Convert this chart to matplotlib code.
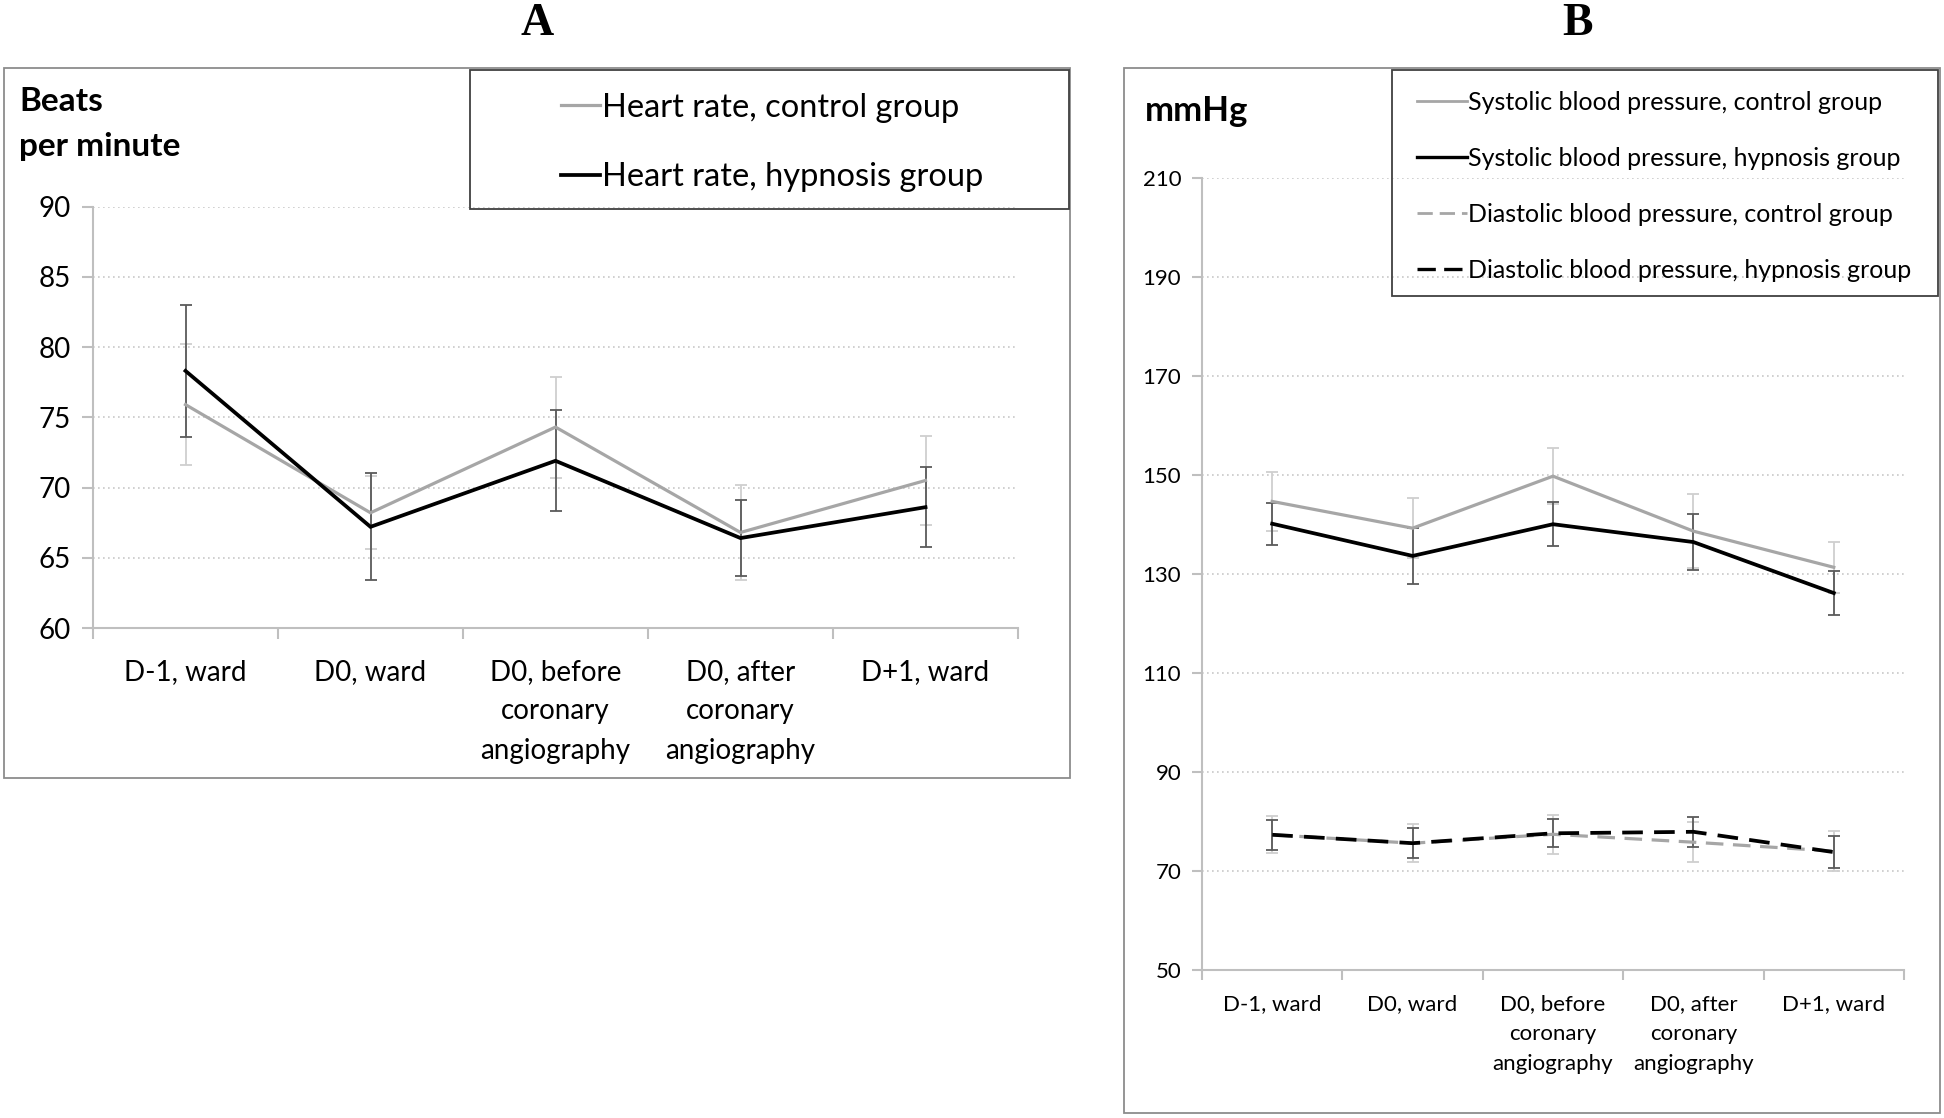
import matplotlib
matplotlib.use("Agg")
import matplotlib.pyplot as plt
from matplotlib.patches import Rectangle
from matplotlib.lines import Line2D
import numpy as np

plt.rcParams['font.family'] = ['Lato', 'DejaVu Sans']

categories = ["D-1, ward", "D0, ward", "D0, before\ncoronary\nangiography",
              "D0, after\ncoronary\nangiography", "D+1, ward"]

# Panel A: heart rate (beats per minute)
hr_control = [75.9, 68.2, 74.3, 66.8, 70.5]
hr_control_err = [4.3, 2.6, 3.6, 3.4, 3.2]
hr_hypnosis = [78.3, 67.2, 71.9, 66.4, 68.6]
hr_hypnosis_err = [4.7, 3.8, 3.6, 2.7, 2.85]
hr_ticks = [60, 65, 70, 75, 80, 85, 90]

# Panel B: blood pressure (mmHg)
sbp_control = [144.6, 139.2, 149.7, 138.6, 131.3]
sbp_control_err = [5.9, 6.1, 5.7, 7.5, 5.1]
sbp_hypnosis = [140.1, 133.6, 140.0, 136.4, 126.1]
sbp_hypnosis_err = [4.2, 5.7, 4.4, 5.7, 4.4]
dbp_control = [77.3, 75.6, 77.4, 75.8, 74.0]
dbp_control_err = [3.7, 3.8, 3.9, 4.0, 4.0]
dbp_hypnosis = [77.3, 75.6, 77.6, 77.9, 73.8]
dbp_hypnosis_err = [3.0, 3.0, 2.8, 3.0, 3.2]
bp_ticks = [50, 70, 90, 110, 130, 150, 170, 190, 210]

W, H = 1944, 1118
fig = plt.figure(figsize=(W / 100, H / 100), dpi=100)


def fx(px):
    return px / W


def fy(py):
    return 1 - py / H


GRAY = '#a6a6a6'
BLACK = '#000000'
GRAY_ERR = '#cfcfcf'
BLACK_ERR = '#5a5a5a'
SPINE = '#bfbfbf'


def style_axes(ax, ticks, tick_fs, xl_fs, xl_ls, xl_pad, tick_len):
    x = np.arange(len(categories))
    ax.set_xlim(-0.5, len(categories) - 0.5)
    ax.set_ylim(ticks[0], ticks[-1])
    ax.set_yticks(ticks)
    ax.set_yticklabels([str(t) for t in ticks], fontsize=tick_fs)
    ax.set_xticks(x)
    ax.set_xticklabels(categories, fontsize=xl_fs, linespacing=xl_ls)
    ax.set_xticks(np.arange(-0.5, len(categories)), minor=True)
    ax.tick_params(axis='x', which='major', length=0, pad=xl_pad)
    ax.tick_params(axis='x', which='minor', length=tick_len, color=SPINE, width=1.5)
    ax.tick_params(axis='y', length=tick_len, color=SPINE, width=1.5, pad=8)
    for s in ['top', 'right']:
        ax.spines[s].set_visible(False)
    for s in ['left', 'bottom']:
        ax.spines[s].set_color(SPINE)
        ax.spines[s].set_linewidth(1.5)
    for t in ticks[1:]:
        ax.axhline(t, color='#c8c8c8', lw=1.2, ls=(0, (1, 2)), zorder=0)


def series(ax, y, err, color, ecolor, lw, dashed=False):
    x = np.arange(len(categories))
    ax.errorbar(x, y, yerr=err, fmt='none', ecolor=ecolor, elinewidth=1.3,
                capsize=4, capthick=1.3, zorder=2)
    ln, = ax.plot(x, y, color=color, lw=lw, zorder=3,
                  solid_joinstyle='miter')
    if dashed:
        ln.set_dashes((5.5, 3.0))
    return ln


# ---------------- Panel A ----------------
axA = fig.add_axes([fx(93), fy(628), fx(1018 - 93), fy(206.5) - fy(628)])
style_axes(axA, hr_ticks, 20, 20, 1.65, 22, 8)
series(axA, hr_control, hr_control_err, GRAY, GRAY_ERR, 2.3)
series(axA, hr_hypnosis, hr_hypnosis_err, BLACK, BLACK_ERR, 2.7)

fig.patches.append(Rectangle((fx(4), fy(778)), fx(1070 - 4), fy(68) - fy(778),
                             transform=fig.transFigure, fill=False,
                             edgecolor='#8c8c8c', lw=1.3))
fig.patches.append(Rectangle((fx(470), fy(209)), fx(1069 - 470), fy(70) - fy(209),
                             transform=fig.transFigure, fill=False,
                             edgecolor='#404040', lw=1.3))
handlesA = [Line2D([], [], color=GRAY, lw=2.3), Line2D([], [], color=BLACK, lw=2.7)]
fig.legend(handlesA, ["Heart rate, control group", "Heart rate, hypnosis group"],
           loc='center left', bbox_to_anchor=(fx(561), fy(142.5)), frameon=False,
           fontsize=23.5, handlelength=1.2, handletextpad=0.05, labelspacing=1.21,
           borderpad=0, borderaxespad=0)
fig.text(fx(19), fy(87), "Beats\nper minute", fontsize=24, fontweight='bold',
         ha='left', va='top', linespacing=1.65)
fig.text(fx(537), fy(24), "A", fontsize=33, fontweight='bold',
         family='Liberation Serif', ha='center', va='center')

# ---------------- Panel B ----------------
axB = fig.add_axes([fx(1202), fy(970), fx(1904 - 1202), fy(177.5) - fy(970)])
style_axes(axB, bp_ticks, 16, 16, 1.63, 17, 7)
series(axB, sbp_control, sbp_control_err, GRAY, GRAY_ERR, 2.3)
series(axB, sbp_hypnosis, sbp_hypnosis_err, BLACK, BLACK_ERR, 2.7)
series(axB, dbp_control, dbp_control_err, GRAY, GRAY_ERR, 2.3, dashed=True)
series(axB, dbp_hypnosis, dbp_hypnosis_err, BLACK, BLACK_ERR, 2.7, dashed=True)

fig.patches.append(Rectangle((fx(1124), fy(1113)), fx(1940 - 1124), fy(68) - fy(1113),
                             transform=fig.transFigure, fill=False,
                             edgecolor='#8c8c8c', lw=1.3))
fig.patches.append(Rectangle((fx(1392), fy(296)), fx(1938 - 1392), fy(70) - fy(296),
                             transform=fig.transFigure, fill=False,
                             edgecolor='#404040', lw=1.3))
l1 = Line2D([], [], color=GRAY, lw=2.0)
l2 = Line2D([], [], color=BLACK, lw=2.4)
l3 = Line2D([], [], color=GRAY, lw=2.0, dashes=(5.5, 2.5))
l4 = Line2D([], [], color=BLACK, lw=2.4, dashes=(5.5, 2.5))
fig.legend([l1, l2, l3, l4],
           ["Systolic blood pressure, control group",
            "Systolic blood pressure, hypnosis group",
            "Diastolic blood pressure, control group",
            "Diastolic blood pressure, hypnosis group"],
           loc='center left', bbox_to_anchor=(fx(1417), fy(186)), frameon=False,
           fontsize=18, handlelength=2.0, handletextpad=0.05, labelspacing=1.32,
           borderpad=0, borderaxespad=0)
fig.text(fx(1145), fy(111), "mmHg", fontsize=25, fontweight='bold',
         ha='left', va='center')
fig.text(fx(1577), fy(24), "B", fontsize=33, fontweight='bold',
         family='Liberation Serif', ha='center', va='center')

fig.savefig("out.png", dpi=100)
